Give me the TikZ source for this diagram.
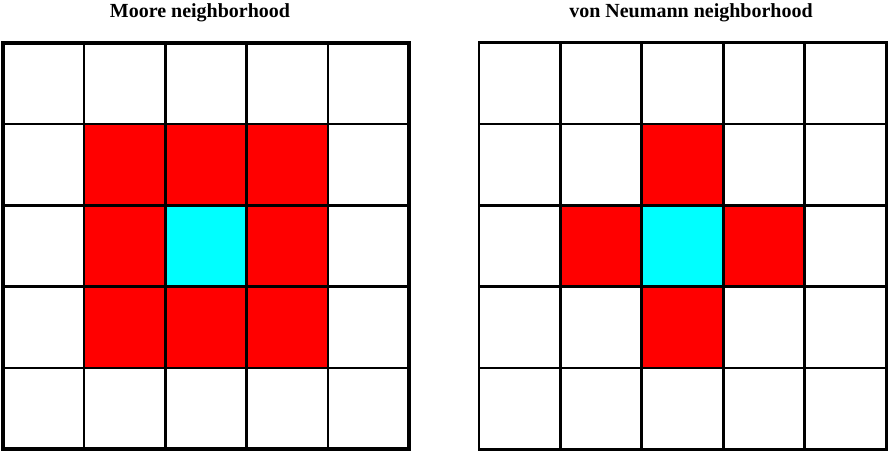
\documentclass[tikz,border=0pt]{standalone}
\usepackage{fontspec}
\setmainfont{Liberation Serif}
\definecolor{cellred}{RGB}{255,0,0}
\definecolor{cellcyan}{RGB}{0,255,255}
\begin{document}
\begin{tikzpicture}[
  x=1pt, y=-1pt,
  cell/.style={rectangle, draw, line width=2.7pt, minimum size=81.3pt, inner sep=0pt, outer sep=0pt, anchor=north west, fill=white},
  neighbor/.style={fill=cellred},
  center/.style={fill=cellcyan},
  title/.style={anchor=base, font=\bfseries\fontsize{20}{24}\selectfont}
]
\useasboundingbox (0,0) rectangle (889,453);

% Moore neighborhood
\foreach \i in {0,...,4}
  \foreach \j in {0,...,4}
    \node[cell] (m-\i-\j) at (2.7+81.3*\i, 42.7+81.3*\j) {};
\foreach \i/\j in {1/1,2/1,3/1,1/2,3/2,1/3,2/3,3/3}
  \node[cell, neighbor] (m-\i-\j) at (2.7+81.3*\i, 42.7+81.3*\j) {};
\node[cell, center] (m-2-2) at (2.7+81.3*2, 42.7+81.3*2) {};
\draw[line width=4pt] (m-0-0.north west) rectangle (m-4-4.south east);
\node[title] (mtitle) at (200,17.5) {Moore neighborhood};

% von Neumann neighborhood
\foreach \i in {0,...,4}
  \foreach \j in {0,...,4}
    \node[cell] (n-\i-\j) at (479+81.5*\i, 42.7+81.3*\j) {};
\foreach \i/\j in {2/1,1/2,3/2,2/3}
  \node[cell, neighbor] (n-\i-\j) at (479+81.5*\i, 42.7+81.3*\j) {};
\node[cell, center] (n-2-2) at (479+81.5*2, 42.7+81.3*2) {};
\node[title] (ntitle) at (691,17.5) {von Neumann neighborhood};
\end{tikzpicture}
\end{document}
